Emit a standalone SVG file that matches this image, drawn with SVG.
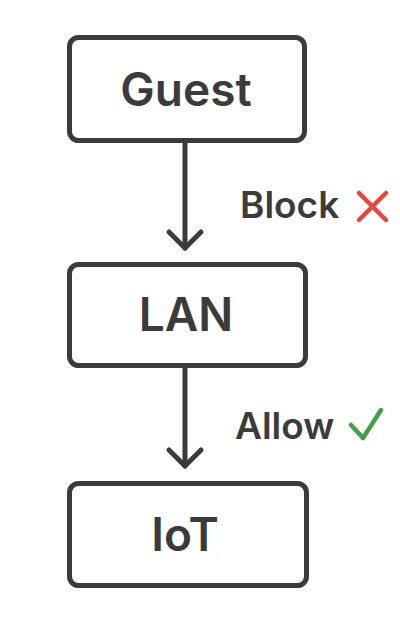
<svg xmlns="http://www.w3.org/2000/svg" width="400" height="620" viewBox="0 0 400 620">
<style>
.box{fill:#fff;stroke:#3b3b3b;stroke-width:5}
.lbl{font-family:Inter,"Liberation Sans",sans-serif;font-weight:600;fill:#3b3b3b;text-anchor:middle}
.big{font-size:46px}
.edge{font-size:37px;text-anchor:start}
.conn{stroke:#3b3b3b;stroke-width:5;fill:none;stroke-linecap:round;stroke-linejoin:round}
</style>
<rect width="400" height="620" fill="#fff"/>
<g id="connectors">
  <g id="edge-guest-lan">
    <line class="conn" x1="185" y1="143" x2="185" y2="248"/>
    <polyline class="conn" points="169,232 185,248 201,232"/>
    <text class="lbl edge" x="240" y="218">Block</text>
    <path d="M359,193 L386,220 M386,193 L359,220" stroke="#e8453c" stroke-width="4.5" stroke-linecap="round" fill="none"/>
  </g>
  <g id="edge-lan-iot">
    <line class="conn" x1="185" y1="368" x2="185" y2="466"/>
    <polyline class="conn" points="169,450 185,466 201,450"/>
    <text class="lbl edge" x="235" y="439">Allow</text>
    <path d="M351,425 L363,438 L381,410" stroke="#43a047" stroke-width="4.5" stroke-linecap="round" stroke-linejoin="round" fill="none"/>
  </g>
</g>
<g id="node-guest">
  <rect class="box" x="69.5" y="37.5" width="235" height="103" rx="9"/>
  <text class="lbl big" x="186" y="106">Guest</text>
</g>
<g id="node-lan">
  <rect class="box" x="69.5" y="264.5" width="236" height="101" rx="9"/>
  <text class="lbl big" x="186" y="331">LAN</text>
</g>
<g id="node-iot">
  <rect class="box" x="69.5" y="483.5" width="237" height="102" rx="9"/>
  <text class="lbl big" x="185" y="551">IoT</text>
</g>
</svg>
